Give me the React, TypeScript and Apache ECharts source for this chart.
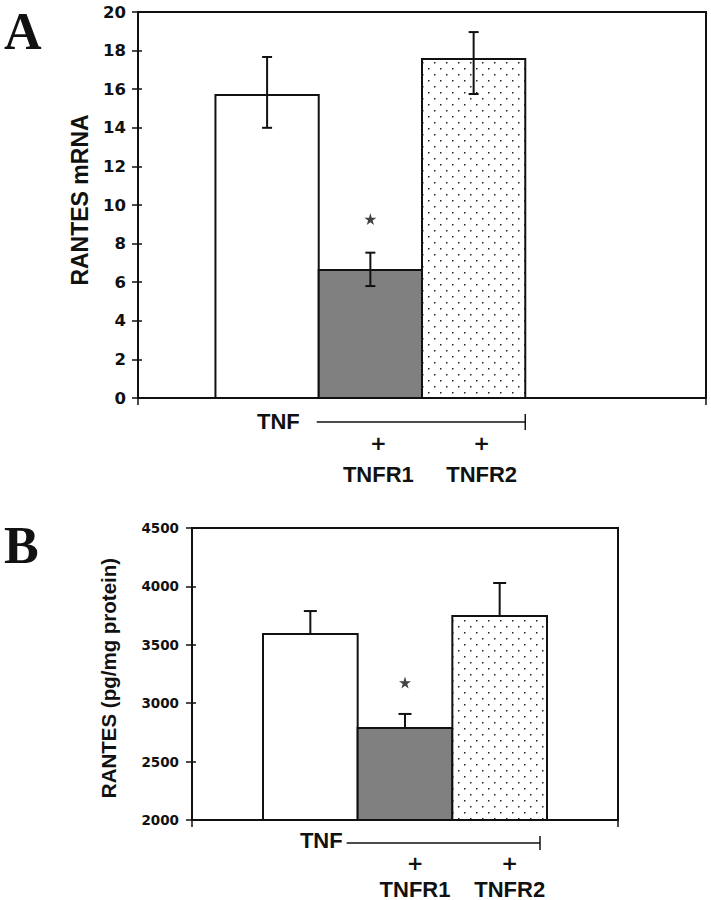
import React, { useEffect, useRef } from 'react';
import * as echarts from 'echarts';

// ---------- data ----------
const groups = ['TNF', 'TNF + TNFR1', 'TNF + TNFR2'];
const stimulusLabel = 'TNF';
const receptorLabels = ['', 'TNFR1', 'TNFR2'];

// Panel A: RANTES mRNA
const mrnaTicks = [0, 2, 4, 6, 8, 10, 12, 14, 16, 18, 20];
const mrnaMean = [15.7, 6.63, 17.56];
const mrnaLow = [14.0, 5.8, 15.75];
const mrnaHigh = [17.67, 7.53, 18.96];
const mrnaStar = [null, 9.27, null];

// Panel B: RANTES protein (pg/mg protein)
const proteinTicks = [2000, 2500, 3000, 3500, 4000, 4500];
const proteinMean = [3592, 2788, 3747];
const proteinHigh = [3789, 2908, 4029];
const proteinStar = [null, 3177, null];

const INK = '#111111';
const GAP = 1.5; // Excel-style gap width (in bar widths)
const center = (i: number) => GAP / 2 + 0.5 + i;
const STAR_PATH =
  'path://M50,0 L61,35 L98,35 L68,57 L79,91 L50,70 L21,91 L32,57 L2,35 L39,35 Z';

export default function App() {
  const ref = useRef<HTMLDivElement>(null);

  useEffect(() => {
    const el = ref.current!;
    const chart = echarts.init(el, null, { renderer: 'svg' });

    const cv = document.createElement('canvas');
    cv.width = 12;
    cv.height = 12;
    const ctx = cv.getContext('2d')!;
    ctx.fillStyle = '#ffffff';
    ctx.fillRect(0, 0, 12, 12);
    ctx.fillStyle = '#222222';
    ctx.fillRect(2, 2, 1.5, 1.5);
    ctx.fillRect(8, 8, 1.5, 1.5);
    const dots = { image: cv.toDataURL(), repeat: 'repeat', imageWidth: 12, imageHeight: 12 };
    const fills: any[] = ['#ffffff', '#808080', dots];

    const panels = [
      {
        letter: 'A', letterY: 31, slots: 4,
        grid: { left: 138, top: 12, width: 568, height: 386 },
        ticks: mrnaTicks, mean: mrnaMean, low: mrnaLow as number[] | null, high: mrnaHigh, star: mrnaStar,
        cap: 10, tickFont: 16.5, margin: 12,
        name: 'RANTES mRNA', nameFont: 23, nameX: 80, nameY: 200,
        xFont: 22, tnfDy: 23, lineDy: 24, plusDy: 45, labelDy: 76,
        lineStartDx: -2, lineEndDx: 0, tnfGap: 17, labelDx: 8, capHalf: 8,
      },
      {
        letter: 'B', letterY: 545, slots: 3,
        grid: { left: 192, top: 528, width: 426, height: 292 },
        ticks: proteinTicks, mean: proteinMean, low: null as number[] | null, high: proteinHigh, star: proteinStar,
        cap: 13, tickFont: 13.5, margin: 13,
        name: 'RANTES (pg/mg protein)', nameFont: 20.5, nameX: 108, nameY: 678,
        xFont: 22, tnfDy: 20, lineDy: 23, plusDy: 43, labelDy: 69,
        lineStartDx: -11, lineEndDx: -7, tnfGap: 4, labelDx: 10, capHalf: 7,
      },
    ];

    const grids: any[] = [];
    const xAxes: any[] = [];
    const yAxes: any[] = [];
    const series: any[] = [];

    panels.forEach((p, gi) => {
      const xMax = p.slots + GAP;
      const yMin = p.ticks[0];
      const yMax = p.ticks[p.ticks.length - 1];
      const step = p.ticks[1] - p.ticks[0];
      grids.push({
        ...p.grid, show: true, borderColor: INK, borderWidth: 2,
        backgroundColor: 'transparent', containLabel: false,
      });
      xAxes.push({
        type: 'value', gridIndex: gi, min: 0, max: xMax, interval: xMax,
        axisLine: { show: true, lineStyle: { color: INK, width: 2 } },
        axisTick: { show: true, length: 7, lineStyle: { color: INK, width: 1.5 } },
        axisLabel: { show: false }, splitLine: { show: false },
      });
      yAxes.push({
        type: 'value', gridIndex: gi, position: 'left', min: yMin, max: yMax, interval: step,
        axisLine: { show: true, lineStyle: { color: INK, width: 2 } },
        axisTick: { show: true, length: 6, lineStyle: { color: INK, width: 1.5 } },
        axisLabel: {
          show: true, color: INK, fontFamily: 'DejaVu Sans', fontWeight: 'bold',
          fontSize: p.tickFont, margin: p.margin,
          formatter: (v: number) => String(v),
        },
        splitLine: { show: false },
      });
      yAxes.push({
        type: 'value', gridIndex: gi, position: 'left', min: yMin, max: yMax, interval: step,
        axisLine: { show: false },
        axisTick: { show: true, inside: true, length: 4, lineStyle: { color: INK, width: 1.5 } },
        axisLabel: { show: false }, splitLine: { show: false },
      });
      const yIdx = gi * 2;

      series.push({
        type: 'custom', name: 'bars', xAxisIndex: gi, yAxisIndex: yIdx,
        data: p.mean.map((m, i) => [center(i), m]),
        renderItem: (params: any, api: any) => {
          const x = api.value(0);
          const v = api.value(1);
          const a = api.coord([x - 0.5, v]);
          const b = api.coord([x + 0.5, yMin]);
          return {
            type: 'rect',
            shape: { x: a[0], y: a[1], width: b[0] - a[0], height: b[1] - a[1] },
            style: { fill: fills[params.dataIndex], stroke: INK, lineWidth: 2 },
          };
        },
        z: 2,
      });

      series.push({
        type: 'custom', name: 'error', xAxisIndex: gi, yAxisIndex: yIdx,
        data: p.mean.map((m, i) => [center(i), p.low ? p.low[i] : m, p.high[i], p.low ? 1 : 0]),
        renderItem: (params: any, api: any) => {
          const x = api.value(0);
          const lo = api.coord([x, api.value(1)]);
          const hi = api.coord([x, api.value(2)]);
          const both = api.value(3) === 1;
          const h = p.cap / 2;
          const st = { stroke: INK, lineWidth: 2 };
          const children: any[] = [
            { type: 'line', shape: { x1: hi[0], y1: lo[1], x2: hi[0], y2: hi[1] }, style: st },
            { type: 'line', shape: { x1: hi[0] - h, y1: hi[1], x2: hi[0] + h, y2: hi[1] }, style: st },
          ];
          if (both) {
            children.push({ type: 'line', shape: { x1: lo[0] - h, y1: lo[1], x2: lo[0] + h, y2: lo[1] }, style: st });
          }
          return { type: 'group', children };
        },
        z: 3,
      });

      series.push({
        type: 'scatter', name: 'significance', xAxisIndex: gi, yAxisIndex: yIdx,
        symbol: STAR_PATH, symbolSize: 12,
        itemStyle: { color: INK },
        data: p.star
          .map((s, i) => (s == null ? null : [center(i), s]))
          .filter((d) => d != null),
        z: 4,
      });
    });

    chart.setOption({
      animation: false,
      backgroundColor: '#ffffff',
      grid: grids,
      xAxis: xAxes,
      yAxis: yAxes,
      series,
    });

    const g: any[] = [];
    panels.forEach((p, gi) => {
      const px = (x: number) => chart.convertToPixel({ xAxisIndex: gi }, x) as unknown as number;
      const baseY = chart.convertToPixel({ yAxisIndex: gi * 2 }, p.ticks[0]) as unknown as number;
      const lineStart = px(center(1) - 0.5) + p.lineStartDx;
      const lineEnd = px(center(groups.length - 1) + 0.5) + p.lineEndDx;
      const lineY = baseY + p.lineDy;
      const xf = `bold ${p.xFont}px "Liberation Sans", Arial, sans-serif`;

      g.push({
        type: 'text', x: 4, y: p.letterY,
        style: { text: p.letter, font: 'bold 52px "Liberation Serif", "Times New Roman", serif', fill: INK, align: 'left', verticalAlign: 'middle' },
      });
      g.push({
        type: 'text', x: p.nameX, y: p.nameY, rotation: Math.PI / 2,
        style: { text: p.name, font: `bold ${p.nameFont}px "Liberation Sans", Arial, sans-serif`, fill: INK, align: 'center', verticalAlign: 'middle' },
      });
      g.push({
        type: 'text', x: lineStart - p.tnfGap, y: baseY + p.tnfDy,
        style: { text: stimulusLabel, font: xf, fill: INK, align: 'right', verticalAlign: 'middle' },
      });
      g.push({
        type: 'line', shape: { x1: lineStart, y1: lineY, x2: lineEnd, y2: lineY },
        style: { stroke: INK, lineWidth: 1.5 },
      });
      g.push({
        type: 'line', shape: { x1: lineEnd, y1: lineY - p.capHalf, x2: lineEnd, y2: lineY + p.capHalf },
        style: { stroke: INK, lineWidth: 1.5 },
      });
      receptorLabels.forEach((lab, i) => {
        if (!lab) return;
        const cx = px(center(i)) + p.labelDx;
        g.push({
          type: 'text', x: cx, y: baseY + p.plusDy,
          style: { text: '+', font: `bold 20px "DejaVu Sans", sans-serif`, fill: INK, align: 'center', verticalAlign: 'middle' },
        });
        g.push({
          type: 'text', x: cx, y: baseY + p.labelDy,
          style: { text: lab, font: xf, fill: INK, align: 'center', verticalAlign: 'middle' },
        });
      });
    });
    chart.setOption({ graphic: g });

    return () => {
      chart.dispose();
    };
  }, []);

  return (
    <div
      ref={ref}
      style={{ position: 'fixed', left: 0, top: 0, width: 711, height: 900, background: '#ffffff' }}
    />
  );
}
